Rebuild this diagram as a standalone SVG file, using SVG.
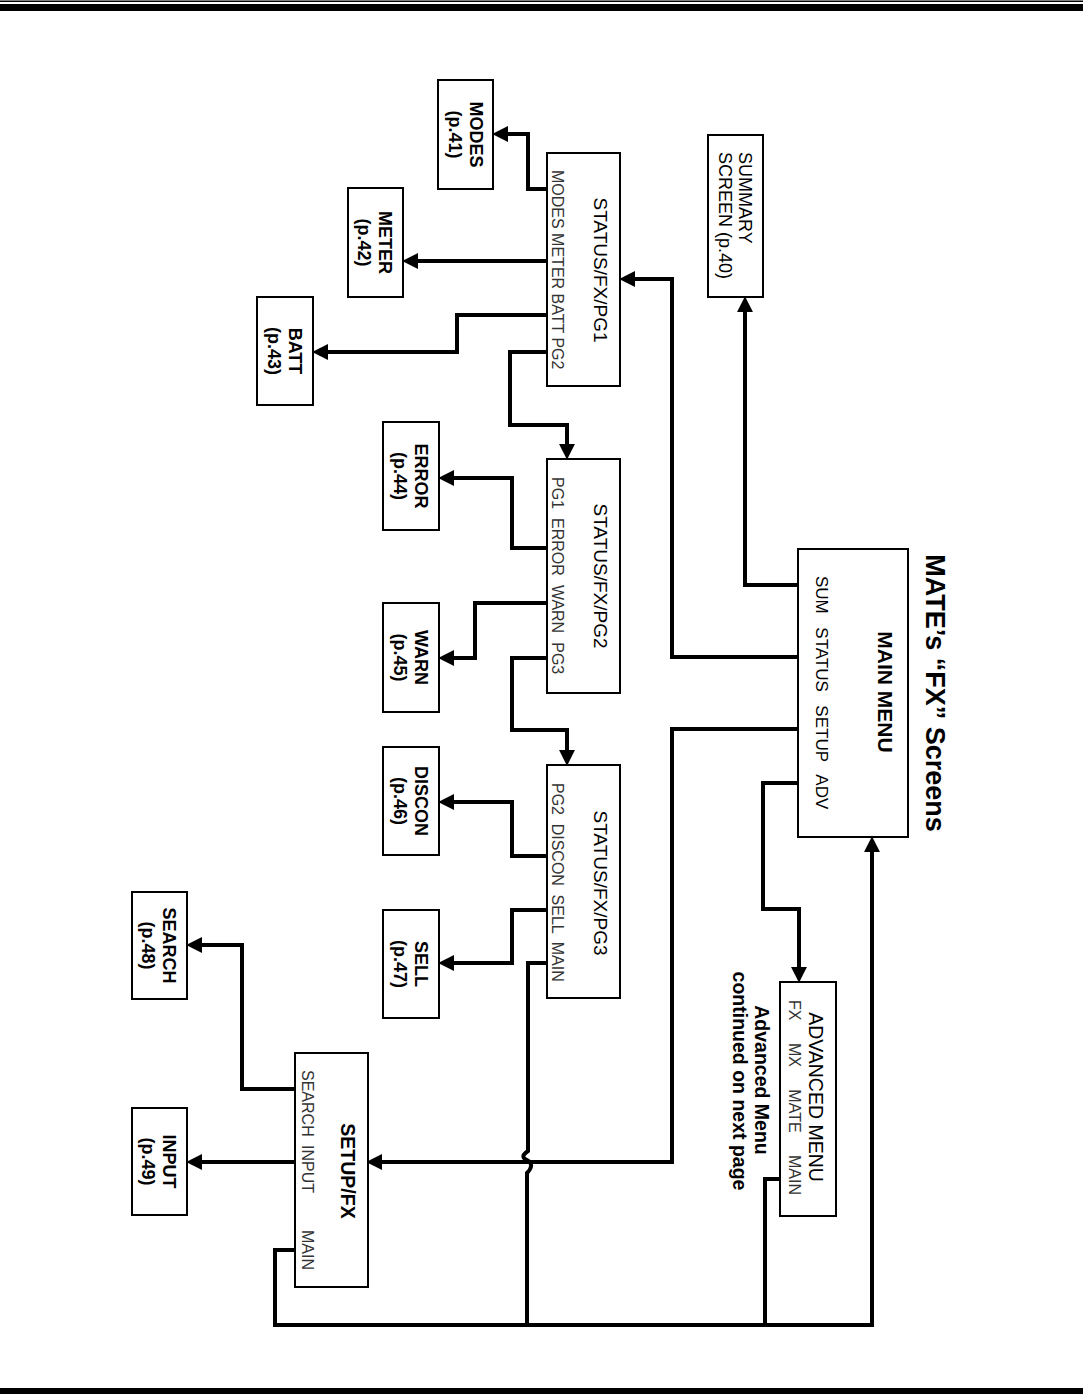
<svg xmlns="http://www.w3.org/2000/svg" width="1086" height="1396" viewBox="0 0 1086 1396">
<defs>
<style>
.box{fill:#fff;stroke:#000;stroke-width:2}
.ln{fill:none;stroke:#000;stroke-width:4;stroke-linejoin:miter}
.st{fill:none;stroke:#000;stroke-width:3}
text{font-family:"Liberation Sans",Arial,sans-serif;fill:#000}
.lb{font-size:18px;font-weight:bold}
.ttl{font-size:19px}
.opt{font-size:16px;fill:#333}
</style>
<marker id="ah" markerUnits="userSpaceOnUse" markerWidth="16" markerHeight="16" refX="8" refY="7" orient="auto" viewBox="0 0 14 14">
<path d="M0,0 L14,7 L0,14 z" fill="#000"/>
</marker>
</defs>
<rect width="1086" height="1396" fill="#fff"/>
<!-- header / footer rules -->
<rect x="0" y="0.5" width="1083" height="1.5" fill="#000"/>
<rect x="0" y="4" width="1083" height="7" fill="#000"/>
<rect x="0" y="1388" width="1083" height="6" fill="#000"/>

<text transform="translate(935 693) rotate(90)" text-anchor="middle" dominant-baseline="central" style="font-size:27px;font-weight:bold">MATE’s “FX” Screens</text>

<g id="connectors">
<path class="ln" d="M798 585 H745 V303" marker-end="url(#ah)"/>
<path class="ln" d="M798 657 H672 V279 H626" marker-end="url(#ah)"/>
<path class="ln" d="M798 729 H672 V1162 H373" marker-end="url(#ah)"/>
<path class="ln" d="M798 783 H763 V909 H799 V976" marker-end="url(#ah)"/>
<path class="ln" d="M547 189 H528 V134 H499" marker-end="url(#ah)"/>
<path class="ln" d="M547 261 H409" marker-end="url(#ah)"/>
<path class="ln" d="M547 315 H457 V352 H319" marker-end="url(#ah)"/>
<path class="ln" d="M547 352 H510 V425 H567 V453" marker-end="url(#ah)"/>
<path class="ln" d="M547 548 H512 V478 H445" marker-end="url(#ah)"/>
<path class="ln" d="M547 603 H475 V658 H445" marker-end="url(#ah)"/>
<path class="ln" d="M547 658 H512 V730 H567 V759" marker-end="url(#ah)"/>
<path class="ln" d="M547 856 H512 V802 H445" marker-end="url(#ah)"/>
<path class="ln" d="M547 910 H512 V963 H445" marker-end="url(#ah)"/>
<path class="ln" d="M295 1089 H242 V945 H193" marker-end="url(#ah)"/>
<path class="ln" d="M295 1162 H193" marker-end="url(#ah)"/>
<path class="ln" d="M547 963 H528 V1151 C522 1155 522 1158 527 1160 C533 1163 532 1168 527 1173 V1325"/>
<path class="ln" d="M295 1250 H275 V1325 H872 V843" marker-end="url(#ah)"/>
<path class="ln" d="M780 1179 H765 V1325"/>
</g>

<g id="main-menu">
<rect class="box" x="798" y="549" width="110" height="288"/>
<text transform="translate(885 692) rotate(90)" text-anchor="middle" dominant-baseline="central" style="font-size:21px;font-weight:bold">MAIN MENU</text>
<text transform="translate(821 576) rotate(90)" dominant-baseline="central" style="font-size:17px;word-spacing:8.8px">SUM STATUS SETUP ADV</text>
</g>

<g id="summary">
<rect class="box" x="708" y="135" width="55" height="162"/>
<text transform="translate(745 152) rotate(90)" dominant-baseline="central" style="font-size:18px">SUMMARY</text>
<text transform="translate(725 152) rotate(90)" dominant-baseline="central" style="font-size:18px">SCREEN (p.40)</text>
</g>

<g id="status-pg1">
<rect class="box" x="547" y="153" width="73" height="233"/>
<text class="ttl" transform="translate(600 270) rotate(90)" text-anchor="middle" dominant-baseline="central">STATUS/FX/PG1</text>
<text class="opt" transform="translate(557 170) rotate(90)" dominant-baseline="central">MODES METER BATT PG2</text>
</g>

<g id="status-pg2">
<rect class="box" x="547" y="459" width="73" height="234"/>
<text class="ttl" transform="translate(600 576) rotate(90)" text-anchor="middle" dominant-baseline="central">STATUS/FX/PG2</text>
<text class="opt" transform="translate(557 477) rotate(90)" dominant-baseline="central" style="word-spacing:4.6px">PG1 ERROR WARN PG3</text>
</g>

<g id="status-pg3">
<rect class="box" x="547" y="765" width="73" height="233"/>
<text class="ttl" transform="translate(600 883) rotate(90)" text-anchor="middle" dominant-baseline="central">STATUS/FX/PG3</text>
<text class="opt" transform="translate(557 783) rotate(90)" dominant-baseline="central" style="word-spacing:4.2px">PG2 DISCON SELL MAIN</text>
</g>

<g id="setup-fx">
<rect class="box" x="295" y="1053" width="73" height="234"/>
<text transform="translate(348 1171) rotate(90)" text-anchor="middle" dominant-baseline="central" style="font-size:19.5px;font-weight:bold">SETUP/FX</text>
<text class="opt" transform="translate(308 1070) rotate(90)" dominant-baseline="central"><tspan x="0">SEARCH</tspan><tspan x="75">INPUT</tspan><tspan x="160">MAIN</tspan></text>
</g>

<g id="advanced-menu">
<rect class="box" x="780" y="982" width="56" height="234"/>
<text transform="translate(816 1097) rotate(90)" text-anchor="middle" dominant-baseline="central" style="font-size:19.5px">ADVANCED MENU</text>
<text class="opt" transform="translate(794 1000) rotate(90)" dominant-baseline="central" style="word-spacing:18px">FX MX MATE MAIN</text>
</g>

<g id="adv-note">
<text transform="translate(762 1080) rotate(90)" text-anchor="middle" dominant-baseline="central" style="font-size:19.5px;font-weight:bold">Advanced Menu</text>
<text transform="translate(740 1081) rotate(90)" text-anchor="middle" dominant-baseline="central" style="font-size:19.5px;font-weight:bold">continued on next page</text>
</g>

<g id="modes">
<rect class="box" x="438" y="80" width="55" height="109"/>
<text class="lb" transform="translate(476 134.5) rotate(90)" text-anchor="middle" dominant-baseline="central">MODES</text>
<text class="lb" transform="translate(455 134.5) rotate(90)" text-anchor="middle" dominant-baseline="central">(p.41)</text>
</g>

<g id="meter">
<rect class="box" x="348" y="188" width="55" height="109"/>
<text class="lb" transform="translate(385 242.5) rotate(90)" text-anchor="middle" dominant-baseline="central">METER</text>
<text class="lb" transform="translate(364 242.5) rotate(90)" text-anchor="middle" dominant-baseline="central">(p.42)</text>
</g>

<g id="batt">
<rect class="box" x="257" y="297" width="56" height="108"/>
<text class="lb" transform="translate(295 351) rotate(90)" text-anchor="middle" dominant-baseline="central">BATT</text>
<text class="lb" transform="translate(274 351) rotate(90)" text-anchor="middle" dominant-baseline="central">(p.43)</text>
</g>

<g id="error">
<rect class="box" x="383" y="422" width="56" height="108"/>
<text class="lb" transform="translate(421 476) rotate(90)" text-anchor="middle" dominant-baseline="central">ERROR</text>
<text class="lb" transform="translate(400 476) rotate(90)" text-anchor="middle" dominant-baseline="central">(p.44)</text>
</g>

<g id="warn">
<rect class="box" x="383" y="603" width="56" height="109"/>
<text class="lb" transform="translate(421 657.5) rotate(90)" text-anchor="middle" dominant-baseline="central">WARN</text>
<text class="lb" transform="translate(400 657.5) rotate(90)" text-anchor="middle" dominant-baseline="central">(p.45)</text>
</g>

<g id="discon">
<rect class="box" x="383" y="747" width="56" height="108"/>
<text class="lb" transform="translate(421 801) rotate(90)" text-anchor="middle" dominant-baseline="central">DISCON</text>
<text class="lb" transform="translate(400 801) rotate(90)" text-anchor="middle" dominant-baseline="central">(p.46)</text>
</g>

<g id="sell">
<rect class="box" x="383" y="910" width="56" height="108"/>
<text class="lb" transform="translate(421 964) rotate(90)" text-anchor="middle" dominant-baseline="central">SELL</text>
<text class="lb" transform="translate(400 964) rotate(90)" text-anchor="middle" dominant-baseline="central">(p.47)</text>
</g>

<g id="search">
<rect class="box" x="132" y="892" width="55" height="107"/>
<text class="lb" transform="translate(169 945.5) rotate(90)" text-anchor="middle" dominant-baseline="central">SEARCH</text>
<text class="lb" transform="translate(148 945.5) rotate(90)" text-anchor="middle" dominant-baseline="central">(p.48)</text>
</g>

<g id="input">
<rect class="box" x="132" y="1108" width="55" height="107"/>
<text class="lb" transform="translate(169 1161.5) rotate(90)" text-anchor="middle" dominant-baseline="central">INPUT</text>
<text class="lb" transform="translate(148 1161.5) rotate(90)" text-anchor="middle" dominant-baseline="central">(p.49)</text>
</g>
</svg>
